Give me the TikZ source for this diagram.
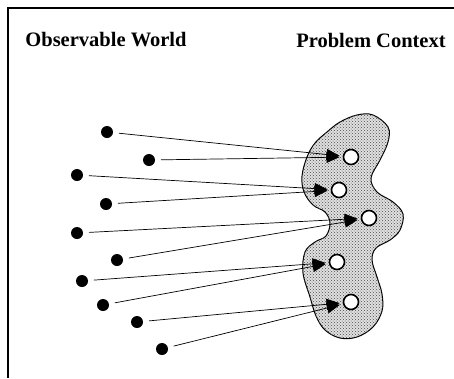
\documentclass[tikz,border=0pt]{standalone}
\usepackage{fontspec}
\setmainfont{Liberation Serif}
\usepackage{tikz}
\usetikzlibrary{arrows.meta,patterns}

\begin{document}
\begin{tikzpicture}[x=1pt, y=-1pt,
    obs/.style={circle, fill=black, inner sep=0pt, minimum size=12pt, outer sep=6pt},
    ctx/.style={circle, draw=black, line width=1.6pt, fill=white, inner sep=0pt, minimum size=15pt, outer sep=4pt},
    link/.style={line width=0.7pt, -{Triangle[length=13pt, width=11pt]}},
    title/.style={font=\fontsize{20.5}{24}\selectfont\bfseries}]
    \useasboundingbox (0,0) rectangle (454,378);
    % frame, only top and left edges are in view
    \draw[line width=1.6pt] (8,378) -- (8,8) -- (454,8);

    \node[title] (world) at (106,40) {Observable World};
    \node[title] (context) at (371,40) {Problem Context};

    % problem context region
    \draw[line width=1pt, fill=black!12, postaction={pattern=crosshatch dots, pattern color=black!70}]
      plot[smooth cycle, tension=0.6] coordinates {
        (373,115) (388,127) (388,142) (380,160) (371,178) (377,192) (393,202)
        (403,214) (400,230) (390,240) (376,248) (372,260) (377,277) (382,294)
        (382,311) (373,327) (357,337) (340,338) (325,330) (316,316) (310,297)
        (303,273) (305,252) (315,242) (326,236) (330,223) (325,212) (313,205)
        (304,192) (302,176) (307,157) (315,143) (327,132) (340,122) (357,115)};

    % observed things
    \node[obs] (o1) at (107,132) {};
    \node[obs] (o2) at (149,160) {};
    \node[obs] (o3) at (77,175) {};
    \node[obs] (o4) at (106,204) {};
    \node[obs] (o5) at (77,233) {};
    \node[obs] (o6) at (117,260) {};
    \node[obs] (o7) at (82,281) {};
    \node[obs] (o8) at (103,305) {};
    \node[obs] (o9) at (137,322) {};
    \node[obs] (o10) at (162,349) {};

    % problem context elements
    \node[ctx] (c1) at (351,157) {};
    \node[ctx] (c2) at (339,190) {};
    \node[ctx] (c3) at (369,218) {};
    \node[ctx] (c4) at (337,262) {};
    \node[ctx] (c5) at (351,302) {};

    \draw[link] (o1) -- (c1);
    \draw[link] (o2) -- (c1);
    \draw[link] (o3) -- (c2);
    \draw[link] (o4) -- (c2);
    \draw[link] (o5) -- (c3);
    \draw[link] (o6) -- (c3);
    \draw[link] (o7) -- (c4);
    \draw[link] (o8) -- (c4);
    \draw[link] (o9) -- (c5);
    \draw[link] (o10) -- (c5);
\end{tikzpicture}
\end{document}
